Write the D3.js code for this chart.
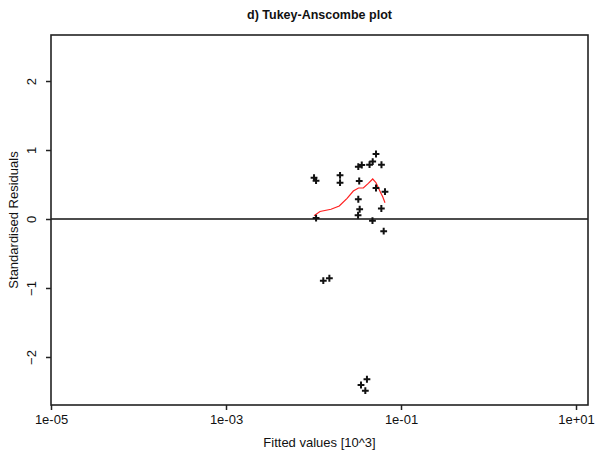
<!DOCTYPE html>
<html><head><meta charset="utf-8">
<script src="https://cdn.jsdelivr.net/npm/d3@7"></script>
<style>body{margin:0;background:#fff}text{font-family:"Liberation Sans",Arial,sans-serif}</style>
</head><body><svg id="c" width="605" height="457"></svg>
<script>
const titleText = "d) Tukey-Anscombe plot";
const xLabel = "Fitted values [10^3]";
const yLabel = "Standardised Residuals";
const xTicks = [1e-5, 1e-3, 1e-1, 1e1];
const xTickLabels = ["1e-05", "1e-03", "1e-01", "1e+01"];
const yTicks = [-2, -1, 0, 1, 2];
const fitted = [0.01014, 0.01069, 0.0201, 0.0201, 0.0325, 0.0356, 0.0333, 0.0518, 0.0475, 0.0437,
  0.0598, 0.0518, 0.0656, 0.0325, 0.0337, 0.0323, 0.0596, 0.0472, 0.0634, 0.0107,
  0.01294, 0.01518, 0.0408, 0.0349, 0.0391];
const residuals = [0.599, 0.555, 0.633, 0.526, 0.758, 0.783, 0.551, 0.942, 0.833, 0.787,
  0.786, 0.449, 0.396, 0.286, 0.141, 0.054, 0.152, -0.025, -0.177, 0.014,
  -0.894, -0.859, -2.323, -2.406, -2.488];
const smoothX = [0.01014, 0.01186, 0.01585, 0.0197, 0.0242, 0.0285, 0.0327, 0.0371, 0.0423, 0.0475, 0.0518, 0.0586, 0.0618, 0.0656];
const smoothY = [0.048, 0.109, 0.141, 0.188, 0.300, 0.406, 0.449, 0.449, 0.517, 0.580, 0.526, 0.381, 0.323, 0.236];

const svg = d3.select("#c");
const L = 51, R = 588, T = 35, B = 405;
const FS = 13;
const x = d3.scaleLog().domain([1e-5, Math.pow(10, 1.137)]).range([L, R]);
const y = d3.scaleLinear().domain([-2.696, 2.667]).range([B, T]);

// x axis
const xa = svg.append("g").attr("transform", `translate(0,${B})`)
  .call(d3.axisBottom(x).tickValues(xTicks).tickFormat((d, i) => xTickLabels[i]).tickSize(5).tickPadding(5));
xa.select(".domain").remove();
xa.selectAll("line").attr("stroke", "#222").attr("stroke-width", 1.5);
xa.selectAll("text").attr("font-size", FS).attr("fill", "#111").attr("font-family", "Liberation Sans, Arial, sans-serif");

// y axis
const ya = svg.append("g").attr("transform", `translate(${L},0)`)
  .call(d3.axisLeft(y).tickValues(yTicks).tickFormat(d3.format("d")).tickSize(5).tickPadding(0));
ya.select(".domain").remove();
ya.selectAll("line").attr("stroke", "#222").attr("stroke-width", 1.5);
ya.selectAll("text").attr("font-size", FS).attr("fill", "#111").attr("text-anchor", "middle")
  .attr("font-family", "Liberation Sans, Arial, sans-serif")
  .attr("x", 0).attr("dy", 0)
  .attr("transform", "translate(-15,0) rotate(-90)");

// zero line
svg.append("line").attr("x1", L).attr("x2", R).attr("y1", y(0)).attr("y2", y(0))
  .attr("stroke", "#111").attr("stroke-width", 1.6);

// smooth
svg.append("path").datum(smoothX.map((d, i) => [d, smoothY[i]]))
  .attr("fill", "none").attr("stroke", "#ff2020").attr("stroke-width", 1.2)
  .attr("d", d3.line().x(d => x(d[0])).y(d => y(d[1])));

// points
svg.append("g").selectAll("path").data(fitted.map((d, i) => [d, residuals[i]])).join("path")
  .attr("d", d => `M${x(d[0]) - 3.4},${y(d[1])}h6.8M${x(d[0])},${y(d[1]) - 3.4}v6.8`)
  .attr("stroke", "#111").attr("stroke-width", 2).attr("fill", "none");

// box
svg.append("rect").attr("x", L).attr("y", T).attr("width", R - L).attr("height", B - T)
  .attr("fill", "none").attr("stroke", "#222").attr("stroke-width", 1.6);

// titles
svg.append("text").attr("x", (L + R) / 2).attr("y", 19).attr("text-anchor", "middle")
  .attr("font-size", 12.5).attr("font-weight", "bold").attr("fill", "#111").text(titleText);
svg.append("text").attr("x", (L + R) / 2).attr("y", 447).attr("text-anchor", "middle")
  .attr("font-size", FS).attr("fill", "#111").text(xLabel);
svg.append("text").attr("transform", `translate(18,${(T + B) / 2}) rotate(-90)`).attr("text-anchor", "middle")
  .attr("font-size", FS).attr("fill", "#111").text(yLabel);
</script></body></html>
